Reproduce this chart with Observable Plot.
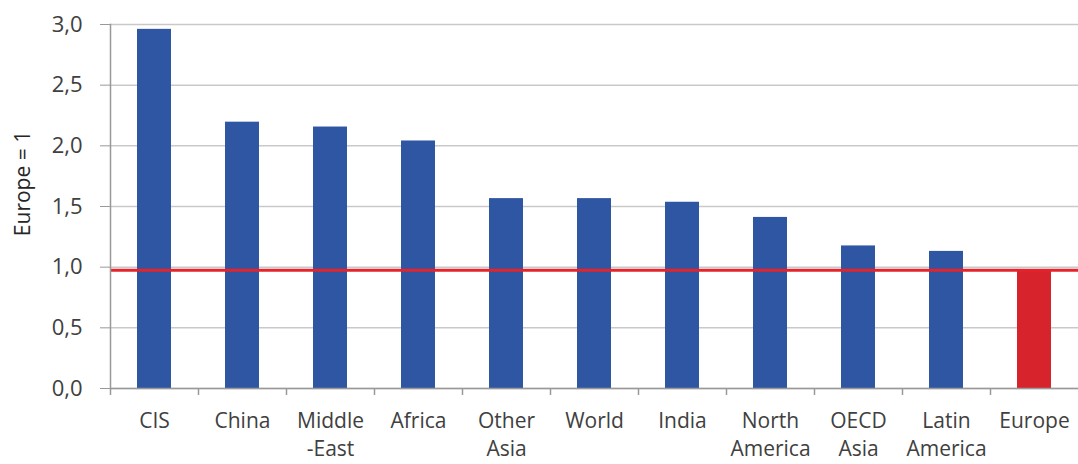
<!DOCTYPE html>
<html>
<head>
<meta charset="utf-8">
<script src="https://cdn.jsdelivr.net/npm/d3@7"></script>
<script src="https://cdn.jsdelivr.net/npm/@observablehq/plot@0.6"></script>
<style>
  html, body { margin: 0; padding: 0; background: #fff; }
  #chart svg { display: block; }
</style>
</head>
<body>
<div id="chart"></div>
<script>
const categories = ["CIS", "China", "Middle\n-East", "Africa", "Other\nAsia", "World", "India", "North\nAmerica", "OECD\nAsia", "Latin\nAmerica", "Europe"];
const values = [2.96, 2.195, 2.155, 2.04, 1.565, 1.565, 1.535, 1.41, 1.175, 1.13, 0.975];
const highlight = ["Europe"];
const referenceLevel = [0.975];
const yTicks = [0, 0.5, 1.0, 1.5, 2.0, 2.5, 3.0];

const data = categories.map((c, i) => ({ category: c, value: values[i], hl: highlight.includes(c) }));

const W = 1078, H = 464, mL = 110, mR = 0;
const half = (W - mL - mR) / categories.length / 2;
const fmt = v => d3.format(".1f")(v).replace(".", ",");

const chart = Plot.plot({
  width: W,
  height: H,
  marginLeft: mL,
  marginRight: mR,
  marginTop: 24,
  marginBottom: 76,
  style: { fontFamily: "'Open Sans', sans-serif", fontSize: "20px", color: "#404040", background: "#fff" },
  x: { domain: categories, paddingInner: 0.61, paddingOuter: 0.305, label: null },
  y: { domain: [0, 3], ticks: yTicks, label: null },
  marks: [
    Plot.gridY(yTicks, { stroke: "#c9c9c9", strokeOpacity: 1, strokeWidth: 1.5 }),
    Plot.barY(data, { x: "category", y: "value", fill: d => d.hl ? "#d7232b" : "#2f56a3" }),
    Plot.ruleY(referenceLevel, { stroke: "#e4232b", strokeWidth: 3 }),
    Plot.ruleY([0], { stroke: "#999", strokeWidth: 1.5 }),
    Plot.frame({ anchor: "left", stroke: "#999", strokeWidth: 1.5 }),
    Plot.ruleX(categories, { x: d => d, dx: -half, y1: 0, y2: 0, stroke: "#999", strokeWidth: 1.5, insetBottom: -7 }),
    Plot.axisY(yTicks, { tickFormat: fmt, tickSize: 10, stroke: "#999", tickPadding: 18, fontSize: 22, fill: "#404040", label: null }),
    Plot.axisX({ tickSize: 0, tickPadding: 19, lineHeight: 1.35, fontSize: 21, fill: "#404040", label: null }),
    Plot.text(["Europe = 1"], { frameAnchor: "left", textAnchor: "middle", rotate: -90, dx: -87, dy: -23, fontSize: 21, fill: "#262626" })
  ]
});
document.getElementById("chart").appendChild(chart);
</script>
</body>
</html>
